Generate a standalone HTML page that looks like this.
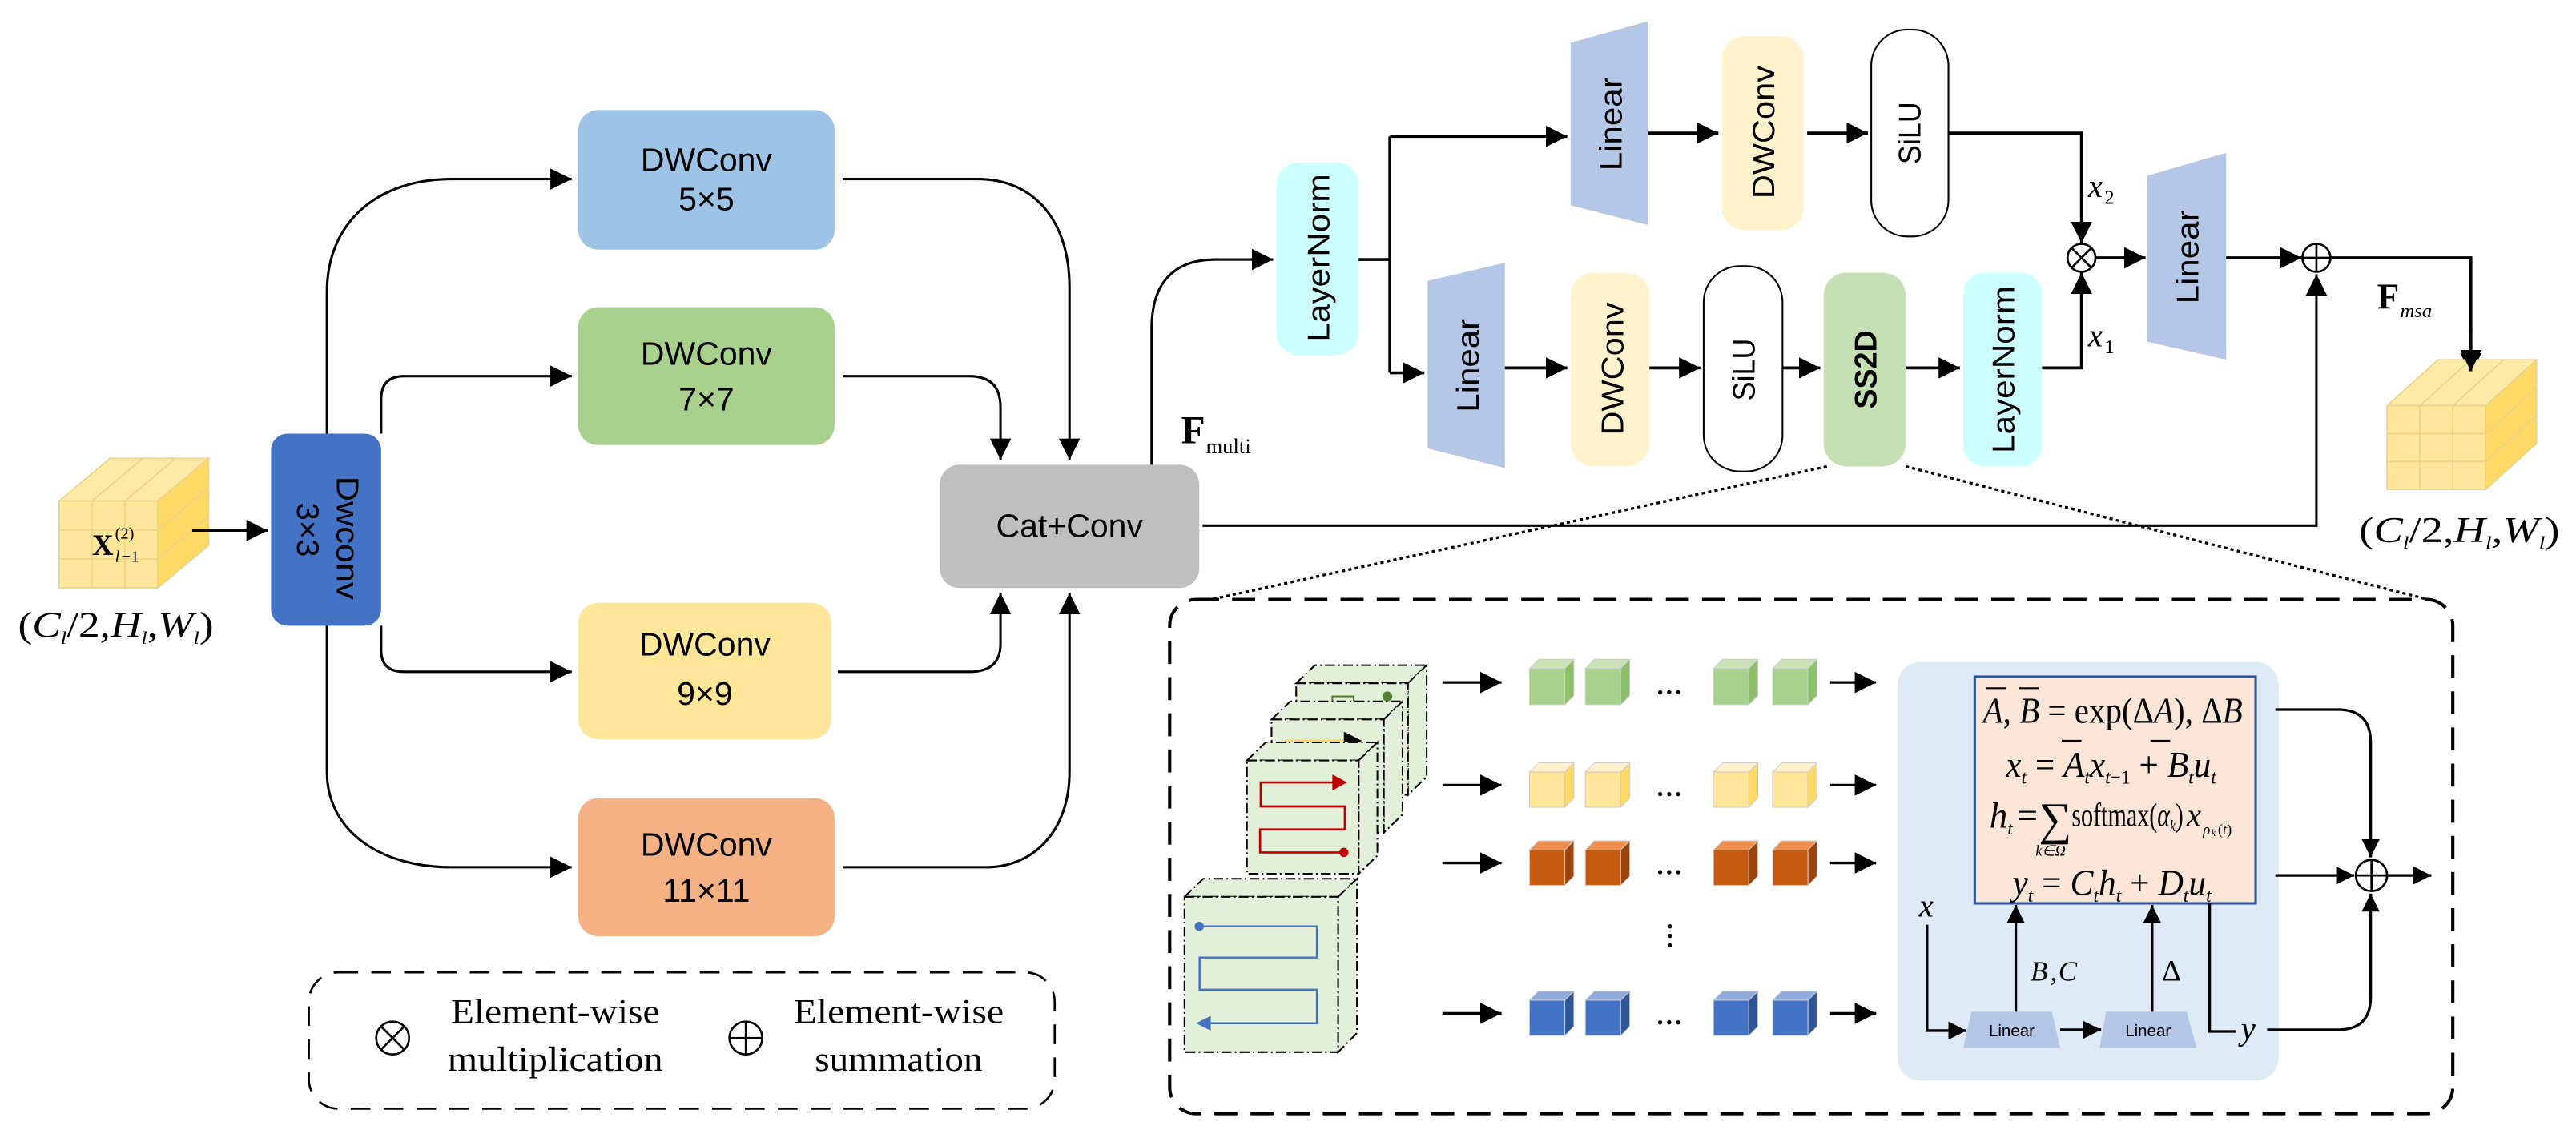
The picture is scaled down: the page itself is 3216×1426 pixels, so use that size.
<!DOCTYPE html>
<html><head><meta charset="utf-8"><style>
html,body{margin:0;padding:0;background:#fff;}
svg{display:block;}
.s{font-family:"Liberation Sans",sans-serif;}
.m{font-family:"Liberation Serif",serif;}
</style></head><body>
<svg width="3216" height="1426" viewBox="0 0 1568 695.3" preserveAspectRatio="none" xmlns="http://www.w3.org/2000/svg">
<defs>
<marker id="a" markerUnits="userSpaceOnUse" markerWidth="14" markerHeight="13" refX="13" refY="6.5" orient="auto"><path d="M0,0 L13,6.5 L0,13 z" fill="#000"/></marker>
<marker id="b" markerUnits="userSpaceOnUse" markerWidth="12" markerHeight="11" refX="11" refY="5.5" orient="auto"><path d="M0,0 L11,5.5 L0,11 z" fill="#000"/></marker>
</defs>
<rect width="1568" height="695.3" fill="#fff"/>

<!-- Input cube -->
<g stroke="#e9d38a" stroke-width="0.8">
<polygon points="36,305 96,305 127,279 67,279" fill="#FFE9A6"/>
<polygon points="96,305 127,279 127,332 96,358" fill="#FFD966"/>
<rect x="36" y="305" width="60" height="53" fill="#FFE699"/>
<line x1="56" y1="305" x2="56" y2="358"/><line x1="76" y1="305" x2="76" y2="358"/>
<line x1="36" y1="322.7" x2="96" y2="322.7"/><line x1="36" y1="340.3" x2="96" y2="340.3"/>
<line x1="56" y1="305" x2="87" y2="279"/><line x1="76" y1="305" x2="107" y2="279"/>
<line x1="96" y1="322.7" x2="127" y2="296.7"/><line x1="96" y1="340.3" x2="127" y2="314.3"/>
</g>
<text class="m" x="56" y="338" font-size="18" font-weight="bold">X</text>
<text class="m" x="70" y="328" font-size="10">(2)</text>
<text class="m" x="70" y="342" font-size="10" font-style="italic">l</text><text class="m" x="74" y="342" font-size="10">−1</text>
<text class="m" x="11" y="388" font-size="22" textLength="119" lengthAdjust="spacingAndGlyphs">(<tspan font-style="italic">C</tspan><tspan font-size="11" font-style="italic" dy="4">l</tspan><tspan dy="-4">/2,</tspan><tspan font-style="italic">H</tspan><tspan font-size="11" font-style="italic" dy="4">l</tspan><tspan dy="-4">,</tspan><tspan font-style="italic">W</tspan><tspan font-size="11" font-style="italic" dy="4">l</tspan><tspan dy="-4">)</tspan></text>
<path d="M117,323 H163" stroke="#000" stroke-width="1.5" fill="none" marker-end="url(#a)"/>

<!-- Dwconv 3x3 -->
<rect x="165" y="264" width="67" height="117" rx="10" fill="#4472C4"/>
<text class="s" transform="translate(205,290) rotate(90)" font-size="19" textLength="75" lengthAdjust="spacingAndGlyphs">Dwconv</text>
<text class="s" transform="translate(181,306) rotate(90)" font-size="19" textLength="33" lengthAdjust="spacingAndGlyphs">3×3</text>

<!-- DWConv boxes -->
<rect x="352" y="67" width="156" height="85" rx="12" fill="#9DC3E6"/>
<text class="s" x="430" y="104" font-size="20" text-anchor="middle">DWConv</text>
<text class="s" x="430" y="128" font-size="20" text-anchor="middle">5×5</text>
<rect x="352" y="187" width="156" height="84" rx="12" fill="#A9D18E"/>
<text class="s" x="430" y="222" font-size="20" text-anchor="middle">DWConv</text>
<text class="s" x="430" y="250" font-size="20" text-anchor="middle">7×7</text>
<rect x="352" y="367" width="154" height="83" rx="12" fill="#FFE699"/>
<text class="s" x="429" y="399" font-size="20" text-anchor="middle">DWConv</text>
<text class="s" x="429" y="429" font-size="20" text-anchor="middle">9×9</text>
<rect x="352" y="486" width="156" height="84" rx="12" fill="#F4B183"/>
<text class="s" x="430" y="521" font-size="20" text-anchor="middle">DWConv</text>
<text class="s" x="430" y="549" font-size="20" text-anchor="middle">11×11</text>

<!-- Cat+Conv -->
<rect x="572" y="283" width="158" height="75" rx="12" fill="#BFBFBF"/>
<text class="s" x="651" y="327" font-size="20" text-anchor="middle">Cat+Conv</text>

<g stroke="#000" stroke-width="1.5" fill="none">
<path d="M199,264 V178 C199,135 230,109 275,109 H348" marker-end="url(#a)"/>
<path d="M232,264 V243 Q232,229 246,229 H348" marker-end="url(#a)"/>
<path d="M232,381 V396 Q232,409 246,409 H348" marker-end="url(#a)"/>
<path d="M199,381 V470 C199,505 230,528 275,528 H348" marker-end="url(#a)"/>
<path d="M513,109 H595 C630,109 651,135 651,175 V280" marker-end="url(#a)"/>
<path d="M513,229 H590 Q609,229 609,248 V280" marker-end="url(#a)"/>
<path d="M510,409 H590 Q609,409 609,392 V361" marker-end="url(#a)"/>
<path d="M513,528 H600 C630,528 651,505 651,470 V361" marker-end="url(#a)"/>
<path d="M701,283 V200 C701,175 712,158 740,158 H775" marker-end="url(#a)"/>
<path d="M732,320 H1410 V167" marker-end="url(#a)"/>
</g>
<text class="m" x="719" y="270" font-size="24" font-weight="bold">F</text>
<text class="m" x="734" y="276" font-size="13">multi</text>

<!-- Legend -->
<rect x="188" y="592" width="454" height="83" rx="18" fill="none" stroke="#000" stroke-width="1.3" stroke-dasharray="12 8"/>
<g stroke="#000" stroke-width="1.3" fill="none">
<circle cx="239" cy="632" r="10"/><line x1="232" y1="625" x2="246" y2="639"/><line x1="246" y1="625" x2="232" y2="639"/>
<circle cx="454" cy="632" r="10"/><line x1="444" y1="632" x2="464" y2="632"/><line x1="454" y1="622" x2="454" y2="642"/>
</g>
<text class="m" x="338" y="623" font-size="21" text-anchor="middle" textLength="127" lengthAdjust="spacingAndGlyphs">Element-wise</text>
<text class="m" x="338" y="652" font-size="21" text-anchor="middle" textLength="131" lengthAdjust="spacingAndGlyphs">multiplication</text>
<text class="m" x="547" y="623" font-size="21" text-anchor="middle" textLength="128" lengthAdjust="spacingAndGlyphs">Element-wise</text>
<text class="m" x="547" y="652" font-size="21" text-anchor="middle" textLength="102" lengthAdjust="spacingAndGlyphs">summation</text>

<!-- Top right block -->
<rect x="777" y="99" width="50" height="117" rx="13" fill="#CCFFFF"/>
<text class="s" transform="translate(809,208) rotate(-90)" font-size="19" textLength="102" lengthAdjust="spacingAndGlyphs">LayerNorm</text>

<polygon points="956,26 1003,13 1003,137 956,125" fill="#B4C7E7"/>
<text class="s" transform="translate(987,104) rotate(-90)" font-size="19" textLength="57" lengthAdjust="spacingAndGlyphs">Linear</text>
<rect x="1048" y="22" width="50" height="118" rx="14" fill="#FFF2CC"/>
<text class="s" transform="translate(1080,121) rotate(-90)" font-size="19" textLength="81" lengthAdjust="spacingAndGlyphs">DWConv</text>
<rect x="1139" y="18" width="47" height="126" rx="22" fill="#fff" stroke="#000" stroke-width="1"/>
<text class="s" transform="translate(1169,100) rotate(-90)" font-size="19" textLength="38" lengthAdjust="spacingAndGlyphs">SiLU</text>

<polygon points="869,171 916,160 916,285 869,273" fill="#B4C7E7"/>
<text class="s" transform="translate(900,251) rotate(-90)" font-size="19" textLength="57" lengthAdjust="spacingAndGlyphs">Linear</text>
<rect x="956" y="166" width="48" height="118" rx="14" fill="#FFF2CC"/>
<text class="s" transform="translate(988,265) rotate(-90)" font-size="19" textLength="81" lengthAdjust="spacingAndGlyphs">DWConv</text>
<rect x="1037" y="162" width="48" height="125" rx="22" fill="#fff" stroke="#000" stroke-width="1"/>
<text class="s" transform="translate(1068,244) rotate(-90)" font-size="19" textLength="38" lengthAdjust="spacingAndGlyphs">SiLU</text>
<rect x="1110" y="166" width="50" height="118" rx="14" fill="#C5E0B4"/>
<text class="s" transform="translate(1142,249) rotate(-90)" font-size="19" font-weight="bold" textLength="48" lengthAdjust="spacingAndGlyphs">SS2D</text>
<rect x="1195" y="166" width="48" height="118" rx="13" fill="#CCFFFF"/>
<text class="s" transform="translate(1226,276) rotate(-90)" font-size="19" textLength="102" lengthAdjust="spacingAndGlyphs">LayerNorm</text>

<polygon points="1307,107 1355,93 1355,219 1307,208" fill="#B4C7E7"/>
<text class="s" transform="translate(1338,185) rotate(-90)" font-size="19" textLength="57" lengthAdjust="spacingAndGlyphs">Linear</text>

<g stroke="#000" stroke-width="1.8" fill="none">
<path d="M827,158 H846"/>
<path d="M846,83 V227"/>
<path d="M846,83 H954" marker-end="url(#a)"/>
<path d="M846,227 H867" marker-end="url(#a)"/>
<path d="M1003,81 H1046" marker-end="url(#a)"/>
<path d="M1100,81 H1137" marker-end="url(#a)"/>
<path d="M1186,81 H1267 V148" marker-end="url(#a)"/>
<path d="M916,224 H954" marker-end="url(#a)"/>
<path d="M1004,224 H1035" marker-end="url(#a)"/>
<path d="M1085,224 H1108" marker-end="url(#a)"/>
<path d="M1160,224 H1193" marker-end="url(#a)"/>
<path d="M1243,224 H1267 V166" marker-end="url(#a)"/>
<path d="M1275.5,157 H1306" marker-end="url(#a)"/>
<path d="M1355,157 H1401" marker-end="url(#a)"/>
<path d="M1418.5,157 H1504 V228" marker-end="url(#a)"/>
</g>
<g stroke="#000" stroke-width="1.3" fill="#fff">
<circle cx="1267" cy="157" r="8.5"/>
<circle cx="1410" cy="157" r="8.5"/>
</g>
<g stroke="#000" stroke-width="1.3">
<line x1="1261" y1="151" x2="1273" y2="163"/><line x1="1273" y1="151" x2="1261" y2="163"/>
<line x1="1401.5" y1="157" x2="1418.5" y2="157"/><line x1="1410" y1="148.5" x2="1410" y2="165.5"/>
</g>
<text class="m" x="1271" y="120" font-size="20" font-style="italic">x</text><text class="m" x="1281" y="124" font-size="12">2</text>
<text class="m" x="1271" y="211" font-size="20" font-style="italic">x</text><text class="m" x="1281" y="215" font-size="12">1</text>
<text class="m" x="1447" y="188" font-size="22" font-weight="bold">F</text>
<text class="m" x="1461" y="193" font-size="12" font-style="italic">msa</text>

<!-- Output cube -->
<g stroke="#e9d38a" stroke-width="0.8">
<polygon points="1453,247 1513,247 1544,219 1484,219" fill="#FFE9A6"/>
<polygon points="1513,247 1544,219 1544,270 1513,298" fill="#FFD966"/>
<rect x="1453" y="247" width="60" height="51" fill="#FFE699"/>
<line x1="1473" y1="247" x2="1473" y2="298"/><line x1="1493" y1="247" x2="1493" y2="298"/>
<line x1="1453" y1="264" x2="1513" y2="264"/><line x1="1453" y1="281" x2="1513" y2="281"/>
<line x1="1473" y1="247" x2="1504" y2="219"/><line x1="1493" y1="247" x2="1524" y2="219"/>
<line x1="1513" y1="264" x2="1544" y2="236"/><line x1="1513" y1="281" x2="1544" y2="253"/>
</g>
<path d="M1504,200 V226" stroke="#000" stroke-width="1.8" fill="none" marker-end="url(#a)"/>
<text class="m" x="1436" y="330" font-size="22" textLength="122" lengthAdjust="spacingAndGlyphs">(<tspan font-style="italic">C</tspan><tspan font-size="11" font-style="italic" dy="4">l</tspan><tspan dy="-4">/2,</tspan><tspan font-style="italic">H</tspan><tspan font-size="11" font-style="italic" dy="4">l</tspan><tspan dy="-4">,</tspan><tspan font-style="italic">W</tspan><tspan font-size="11" font-style="italic" dy="4">l</tspan><tspan dy="-4">)</tspan></text>

<!-- dotted zoom lines -->
<g stroke="#000" stroke-width="1.6" stroke-dasharray="2 2" fill="none">
<path d="M1112,284 L737,365"/><path d="M1160,284 L1478,365"/>
</g>
<!-- big dashed box -->
<rect x="712" y="365" width="781" height="313" rx="16" fill="none" stroke="#000" stroke-width="2" stroke-dasharray="14 8"/>

<!-- planes -->
<g fill="#E2F0D9" stroke="#000" stroke-width="1" stroke-dasharray="6 2 1 2">
<polygon points="789,416 800.4,405 868.4,405 857,416"/><polygon points="857,416 868.4,405 868.4,473 857,484"/><rect x="789" y="416" width="68" height="68"/>
</g>
<circle cx="844.5" cy="424" r="3" fill="#548235"/>
<path d="M811,431 V424 H824 V431" stroke="#548235" stroke-width="1" fill="none"/>
<g fill="#E2F0D9" stroke="#000" stroke-width="1" stroke-dasharray="6 2 1 2">
<polygon points="774,438 785.4,427 853.7,427 842.3,438"/><polygon points="842.3,438 853.7,427 853.7,496 842.3,507"/><rect x="774" y="438" width="68.3" height="69"/>
</g>
<path d="M782,451 H829" stroke="#FFD966" stroke-width="1.5" marker-end="url(#b)"/>
<g fill="#E2F0D9" stroke="#000" stroke-width="1" stroke-dasharray="6 2 1 2">
<polygon points="759,463 770.4,452 838.4,452 827,463"/><polygon points="827,463 838.4,452 838.4,521 827,532"/><rect x="759" y="463" width="68" height="69"/>
</g>
<path d="M818,519 H767 V505 H818.6 V491 H767.4 V476.4 H812" stroke="#C00000" stroke-width="1.3" fill="none"/>
<polygon points="811,471.5 820,476.4 811,481.3" fill="#C00000"/>
<circle cx="818" cy="519" r="2.8" fill="#C00000"/>
<g fill="#E2F0D9" stroke="#000" stroke-width="1" stroke-dasharray="6 2 1 2">
<polygon points="721,546 732.4,535 826,535 814.5,546"/><polygon points="814.5,546 826,535 826,629 814.5,640.6"/><rect x="721" y="546" width="93.5" height="94.6"/>
</g>
<path d="M730,564 H801.6 V583 H730.2 V602.6 H801.6 V623 H737" stroke="#4472C4" stroke-width="1.2" fill="none"/>
<polygon points="737,618.5 728,623 737,627.5" fill="#4472C4"/>
<circle cx="730" cy="564" r="2.8" fill="#4472C4"/>

<!-- arrows and cubes -->
<g stroke="#000" stroke-width="1.6" fill="none">
<path d="M878,415.5 H914" marker-end="url(#a)"/>
<path d="M878,478 H914" marker-end="url(#a)"/>
<path d="M878,525.4 H914" marker-end="url(#a)"/>
<path d="M878,617 H914" marker-end="url(#a)"/>
<path d="M1114,415.5 H1142" marker-end="url(#a)"/>
<path d="M1114,478 H1142" marker-end="url(#a)"/>
<path d="M1114,525.4 H1142" marker-end="url(#a)"/>
<path d="M1114,617 H1142" marker-end="url(#a)"/>
</g>
<g stroke="#ccc" stroke-width="0.5">
<g fill="#A9D18E"><rect x="931" y="407" width="21.5" height="22"/><rect x="965" y="407" width="21.5" height="22"/><rect x="1043" y="407" width="21.5" height="22"/><rect x="1079" y="407" width="21.5" height="22"/></g>
<g fill="#C9E3B6"><polygon points="931,407 936.5,401.5 958,401.5 952.5,407"/><polygon points="965,407 970.5,401.5 992,401.5 986.5,407"/><polygon points="1043,407 1048.5,401.5 1070,401.5 1064.5,407"/><polygon points="1079,407 1084.5,401.5 1106,401.5 1100.5,407"/></g>
<g fill="#8CC068"><polygon points="952.5,407 958,401.5 958,423.5 952.5,429"/><polygon points="986.5,407 992,401.5 992,423.5 986.5,429"/><polygon points="1064.5,407 1070,401.5 1070,423.5 1064.5,429"/><polygon points="1100.5,407 1106,401.5 1106,423.5 1100.5,429"/></g>
<g fill="#FFE699"><rect x="931" y="470" width="21.5" height="21.5"/><rect x="965" y="470" width="21.5" height="21.5"/><rect x="1043" y="470" width="21.5" height="21.5"/><rect x="1079" y="470" width="21.5" height="21.5"/></g>
<g fill="#FFF2CC"><polygon points="931,470 936.5,464.5 958,464.5 952.5,470"/><polygon points="965,470 970.5,464.5 992,464.5 986.5,470"/><polygon points="1043,470 1048.5,464.5 1070,464.5 1064.5,470"/><polygon points="1079,470 1084.5,464.5 1106,464.5 1100.5,470"/></g>
<g fill="#FFD966"><polygon points="952.5,470 958,464.5 958,486 952.5,491.5"/><polygon points="986.5,470 992,464.5 992,486 986.5,491.5"/><polygon points="1064.5,470 1070,464.5 1070,486 1064.5,491.5"/><polygon points="1100.5,470 1106,464.5 1106,486 1100.5,491.5"/></g>
<g fill="#C55A11"><rect x="931" y="517.5" width="21.5" height="21.5"/><rect x="965" y="517.5" width="21.5" height="21.5"/><rect x="1043" y="517.5" width="21.5" height="21.5"/><rect x="1079" y="517.5" width="21.5" height="21.5"/></g>
<g fill="#F08D4B"><polygon points="931,517.5 936.5,512 958,512 952.5,517.5"/><polygon points="965,517.5 970.5,512 992,512 986.5,517.5"/><polygon points="1043,517.5 1048.5,512 1070,512 1064.5,517.5"/><polygon points="1079,517.5 1084.5,512 1106,512 1100.5,517.5"/></g>
<g fill="#9A430C"><polygon points="952.5,517.5 958,512 958,533.5 952.5,539"/><polygon points="986.5,517.5 992,512 992,533.5 986.5,539"/><polygon points="1064.5,517.5 1070,512 1070,533.5 1064.5,539"/><polygon points="1100.5,517.5 1106,512 1106,533.5 1100.5,539"/></g>
<g fill="#4472C4"><rect x="931" y="609" width="21.5" height="21.5"/><rect x="965" y="609" width="21.5" height="21.5"/><rect x="1043" y="609" width="21.5" height="21.5"/><rect x="1079" y="609" width="21.5" height="21.5"/></g>
<g fill="#8FAADC"><polygon points="931,609 936.5,603.5 958,603.5 952.5,609"/><polygon points="965,609 970.5,603.5 992,603.5 986.5,609"/><polygon points="1043,609 1048.5,603.5 1070,603.5 1064.5,609"/><polygon points="1079,609 1084.5,603.5 1106,603.5 1100.5,609"/></g>
<g fill="#2F5597"><polygon points="952.5,609 958,603.5 958,625 952.5,630.5"/><polygon points="986.5,609 992,603.5 992,625 986.5,630.5"/><polygon points="1064.5,609 1070,603.5 1070,625 1064.5,630.5"/><polygon points="1100.5,609 1106,603.5 1106,625 1100.5,630.5"/></g>
</g>
<g fill="#000">
<circle cx="1010.5" cy="421.5" r="1.3"/><circle cx="1016" cy="421.5" r="1.3"/><circle cx="1021.5" cy="421.5" r="1.3"/>
<circle cx="1010.5" cy="483.5" r="1.3"/><circle cx="1016" cy="483.5" r="1.3"/><circle cx="1021.5" cy="483.5" r="1.3"/>
<circle cx="1010.5" cy="531" r="1.3"/><circle cx="1016" cy="531" r="1.3"/><circle cx="1021.5" cy="531" r="1.3"/>
<circle cx="1010.5" cy="622.5" r="1.3"/><circle cx="1016" cy="622.5" r="1.3"/><circle cx="1021.5" cy="622.5" r="1.3"/>
<circle cx="1016.5" cy="564" r="1.3"/><circle cx="1016.5" cy="569.8" r="1.3"/><circle cx="1016.5" cy="575.6" r="1.3"/>
</g>

<!-- SSM panel -->
<rect x="1155" y="403" width="232" height="255" rx="14" fill="#DEEBF7"/>
<rect x="1202" y="412" width="171" height="138" fill="#FBE5D6" stroke="#2F5597" stroke-width="1.5"/>
<g class="m" font-size="22">
<text x="1207" y="440" textLength="158" lengthAdjust="spacingAndGlyphs"><tspan font-style="italic">A</tspan>, <tspan font-style="italic">B</tspan> = exp(Δ<tspan font-style="italic">A</tspan>), Δ<tspan font-style="italic">B</tspan></text>
<text x="1221" y="473" textLength="128" lengthAdjust="spacingAndGlyphs"><tspan font-style="italic">x</tspan><tspan font-size="12" font-style="italic" dy="4">t</tspan><tspan dy="-4"> = </tspan><tspan font-style="italic">A</tspan><tspan font-size="12" font-style="italic" dy="4">t</tspan><tspan font-style="italic" dy="-4">x</tspan><tspan font-size="12" dy="4"><tspan font-style="italic">t</tspan>−1</tspan><tspan dy="-4"> + </tspan><tspan font-style="italic">B</tspan><tspan font-size="12" font-style="italic" dy="4">t</tspan><tspan font-style="italic" dy="-4">u</tspan><tspan font-size="12" font-style="italic" dy="4">t</tspan></text>
<text x="1211" y="504" font-style="italic">h</text><text x="1222" y="508" font-size="11" font-style="italic">t</text>
<text x="1228" y="504">=</text>
<text x="1241" y="508" font-size="28">∑</text>
<text x="1239" y="521" font-size="9" font-style="italic">k∈Ω</text>
<text x="1261" y="503" font-size="20" textLength="68" lengthAdjust="spacingAndGlyphs">softmax(<tspan font-style="italic">α</tspan><tspan font-size="10" font-style="italic" dy="3">k</tspan><tspan dy="-3">)</tspan></text>
<text x="1331" y="503" font-size="20" font-style="italic">x</text><text x="1341" y="508" font-size="9" font-style="italic">ρ</text><text x="1346" y="509" font-size="6" font-style="italic">k</text><text x="1350" y="508" font-size="9">(<tspan font-style="italic">t</tspan>)</text>
<text x="1225" y="545" textLength="121" lengthAdjust="spacingAndGlyphs"><tspan font-style="italic">y</tspan><tspan font-size="12" font-style="italic" dy="4">t</tspan><tspan dy="-4"> = </tspan><tspan font-style="italic">C</tspan><tspan font-size="12" font-style="italic" dy="4">t</tspan><tspan font-style="italic" dy="-4">h</tspan><tspan font-size="12" font-style="italic" dy="4">t</tspan><tspan dy="-4"> + </tspan><tspan font-style="italic">D</tspan><tspan font-size="12" font-style="italic" dy="4">t</tspan><tspan font-style="italic" dy="-4">u</tspan><tspan font-size="12" font-style="italic" dy="4">t</tspan></text>
</g>
<g stroke="#000" stroke-width="1">
<line x1="1209" y1="419" x2="1221" y2="419"/><line x1="1229" y1="419" x2="1241" y2="419"/>
<line x1="1255" y1="451" x2="1267" y2="451"/><line x1="1309" y1="451" x2="1321" y2="451"/>
</g>
<polygon points="1200,616 1249,616 1254,638 1195,638" fill="#B4C7E7"/>
<polygon points="1282,616 1331,616 1337,638 1278,638" fill="#B4C7E7"/>
<text class="s" x="1224.5" y="631" font-size="10" text-anchor="middle">Linear</text>
<text class="s" x="1307.5" y="631" font-size="10" text-anchor="middle">Linear</text>
<g stroke="#000" stroke-width="1.6" fill="none">
<path d="M1173,563 V627.5 H1197" marker-end="url(#b)"/>
<path d="M1254,627 H1279" marker-end="url(#b)"/>
<path d="M1227,616 V551" marker-end="url(#b)"/>
<path d="M1310,616 V551" marker-end="url(#b)"/>
<path d="M1345,550 V628 H1361"/>
<path d="M1385,432 H1423 Q1443,432 1443,452 V522" marker-end="url(#b)"/>
<path d="M1385,533 H1433" marker-end="url(#b)"/>
<path d="M1380,627 H1423 Q1443,627 1443,607 V544" marker-end="url(#b)"/>
<path d="M1453,533 H1480" marker-end="url(#b)"/>
</g>
<circle cx="1443.5" cy="533" r="9.5" fill="none" stroke="#000" stroke-width="1.3"/>
<line x1="1434" y1="533" x2="1453" y2="533" stroke="#000" stroke-width="1.3"/>
<line x1="1443.5" y1="523.5" x2="1443.5" y2="542.5" stroke="#000" stroke-width="1.3"/>
<text class="m" x="1168" y="558" font-size="20" font-style="italic">x</text>
<text class="m" x="1364" y="633" font-size="20" font-style="italic">y</text>
<text class="m" x="1236" y="597" font-size="17" font-style="italic">B</text><text class="m" x="1248" y="597" font-size="17">,</text><text class="m" x="1253" y="597" font-size="17" font-style="italic">C</text>
<text class="m" x="1316" y="597" font-size="18">Δ</text>
</svg>
</body></html>
